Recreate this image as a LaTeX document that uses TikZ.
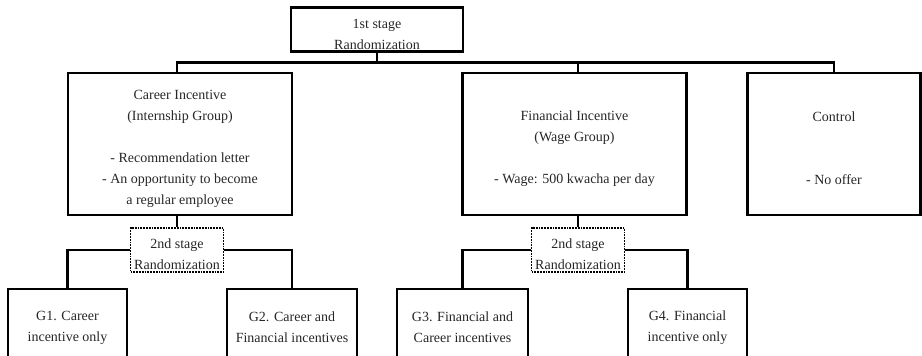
\documentclass[tikz,border=0pt]{standalone}
\usepackage{fontspec}
\setmainfont{Liberation Serif}
\newcommand{\lift}{\rule{0pt}{19pt}}
\begin{document}
\begin{tikzpicture}[x=1pt, y=-1pt,
  every node/.style = {align=center, font=\fontsize{14}{21}\selectfont, text=black!85},
  box/.style = {draw, line width=2.6pt, inner sep=0pt},
  randbox/.style = {draw, densely dotted, line width=1.8pt, fill=white,
    inner sep=0pt, minimum width=93pt, minimum height=44pt},
  group/.style = {box, minimum height=68pt},
  link/.style = {line width=2.3pt}
  ]
  \clip (0,0) rectangle (922,356);
  % first stage
  \node[box, minimum width=172pt, minimum height=44pt] (stage1) at (377,29.5)
    {\lift 1st stage\\Randomization};
  \node[box, minimum width=224pt, minimum height=142pt] (career) at (180,144)
    {\lift Career Incentive\\(Internship Group)\\[21pt]- Recommendation letter\\
     - An opportunity to become\\a regular employee};
  \node[box, minimum width=224pt, minimum height=142pt] (finance) at (574.5,144)
    {\lift Financial Incentive\\(Wage Group)\\[21pt]- Wage: 500 kwacha per day};
  \node[box, minimum width=173pt, minimum height=142pt] (control) at (834,144)
    {\lift Control\\[42pt]- No offer};
  % second stage
  \node[randbox] (rand1) at (177,250) {\lift 2nd stage\\Randomization};
  \node[randbox] (rand2) at (578,250) {\lift 2nd stage\\Randomization};
  \node[group, minimum width=119pt] (g1) at (67.5,323) {\lift G1. Career\\incentive only};
  \node[group, minimum width=130pt] (g2) at (292,323) {\lift G2. Career and\\Financial incentives};
  \node[group, minimum width=131pt] (g3) at (462.5,323) {\lift G3. Financial and\\Career incentives};
  \node[group, minimum width=119pt] (g4) at (687.5,323) {\lift G4. Financial\\incentive only};
  % connectors
  \coordinate (split) at (377,62.5);
  \draw[link] (stage1.south) -- (split);
  \draw[link] (rand1 |- career.north) |- (split) -| (control.north);
  \draw[link] (rand2 |- split) -- (rand2 |- finance.north);
  \draw[link] (rand1 |- career.south) -- (rand1.north);
  \draw[link] (rand2 |- finance.south) -- (rand2.north);
  \draw[link] (rand1.west) -| (g1.north);
  \draw[link] (rand1.east) -| (g2.north);
  \draw[link] (rand2.west) -| (g3.north);
  \draw[link] (rand2.east) -| (g4.north);
\end{tikzpicture}
\end{document}
